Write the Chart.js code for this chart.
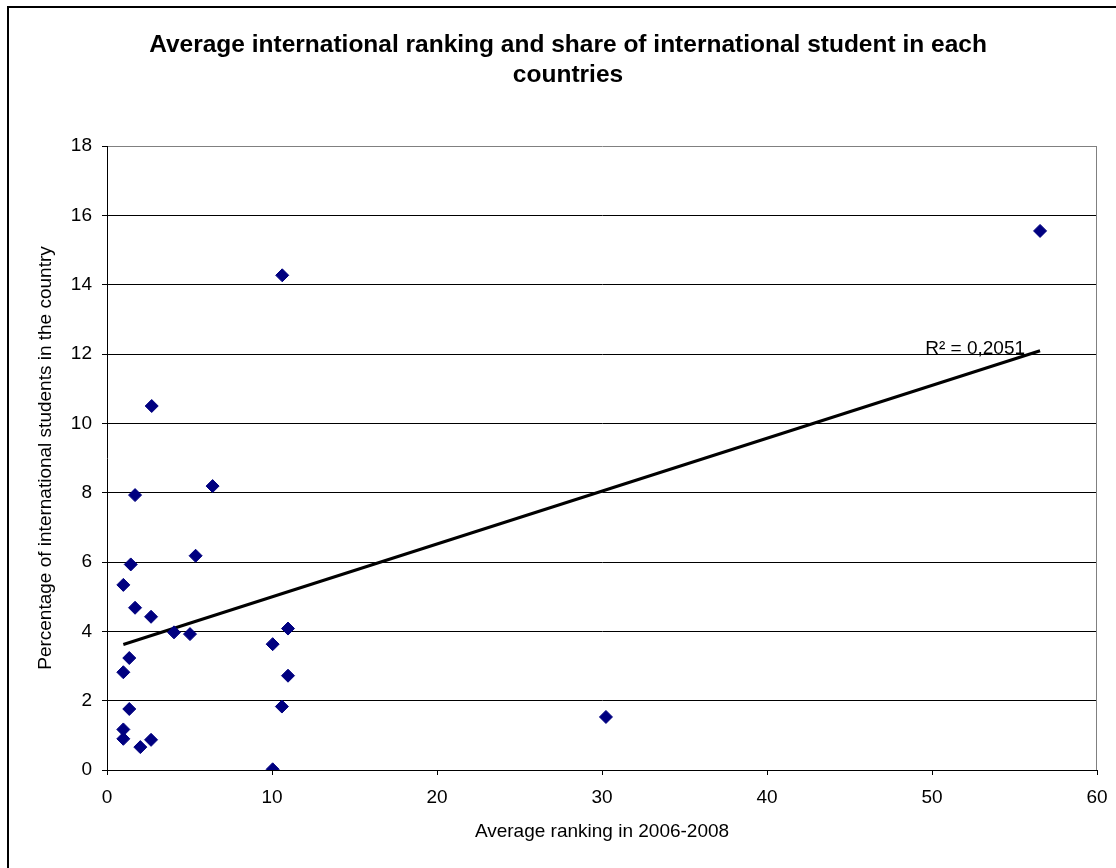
<!DOCTYPE html>
<html>
<head>
<meta charset="utf-8">
<script src="https://cdn.jsdelivr.net/npm/chart.js@4.4.1/dist/chart.umd.min.js"></script>
<style>
  html, body { margin: 0; padding: 0; background: #fff; }
  canvas { display: block; }
</style>
</head>
<body>
<canvas id="c" width="1116" height="868"></canvas>
<script>
// ---- Data ----
const rankings = [56.55, 10.62, 2.71, 1.70, 6.40, 1.44, 5.37, 0.99, 1.70, 2.67, 4.06, 5.03, 10.04, 10.97, 1.35, 0.99, 10.97, 1.35, 10.60, 0.99, 0.99, 2.02, 2.67, 10.04, 30.24];
const shares   = [15.55, 14.27, 10.50, 7.93, 8.19, 5.93, 6.18, 5.34, 4.68, 4.42, 3.97, 3.92, 3.63, 4.08, 3.23, 2.82, 2.72, 1.76, 1.83, 1.17, 0.90, 0.66, 0.87, 0.02, 1.53];
const xTickValues = [0, 10, 20, 30, 40, 50, 60];
const yTickValues = [0, 2, 4, 6, 8, 10, 12, 14, 16, 18];
const titleLines = ['Average international ranking and share of international student in each', 'countries'];
const xAxisTitle = 'Average ranking in 2006-2008';
const yAxisTitle = 'Percentage of international students in the country';
const r2Label = 'R\u00B2 = 0,2051';

// ---- Linear trend (least squares) from the data ----
const n = rankings.length;
const mx = rankings.reduce((a, b) => a + b, 0) / n;
const my = shares.reduce((a, b) => a + b, 0) / n;
let sxy = 0, sxx = 0;
for (let i = 0; i < n; i++) { sxy += (rankings[i] - mx) * (shares[i] - my); sxx += (rankings[i] - mx) ** 2; }
const slope = sxy / sxx;
const intercept = my - slope * mx;
const xMin = Math.min(...rankings), xMax = Math.max(...rankings);
const trend = [{x: xMin, y: intercept + slope * xMin}, {x: xMax, y: intercept + slope * xMax}];

const points = rankings.map((x, i) => ({x, y: shares[i]}));

const FONT = 'Liberation Sans, Arial, sans-serif';

const decor = {
  id: 'decor',
  beforeDraw(chart) {
    const ctx = chart.ctx;
    ctx.save();
    ctx.fillStyle = '#fff';
    ctx.fillRect(0, 0, chart.width, chart.height);
    ctx.restore();
  },
  afterDraw(chart) {
    const ctx = chart.ctx;
    const a = chart.chartArea;
    ctx.save();
    // outer frame (left and top visible)
    ctx.fillStyle = '#000';
    ctx.fillRect(7, 6, 2, chart.height - 6);
    ctx.fillRect(7, 6, chart.width - 7, 2);
    // right border of plot area
    ctx.strokeStyle = '#808080';
    ctx.lineWidth = 1;
    ctx.beginPath();
    ctx.moveTo(Math.round(a.right) - 0.5, a.top);
    ctx.lineTo(Math.round(a.right) - 0.5, a.bottom);
    ctx.stroke();
    // title
    ctx.fillStyle = '#000';
    ctx.font = 'bold 24.5px ' + FONT;
    ctx.textAlign = 'center';
    ctx.textBaseline = 'middle';
    ctx.fillText(titleLines[0], 568, 45);
    ctx.fillText(titleLines[1], 568, 75);
    // R² label near end of trend line
    const xs = chart.scales.x, ys = chart.scales.y;
    ctx.font = '19px ' + FONT;
    ctx.textAlign = 'right';
    ctx.fillText(r2Label, xs.getPixelForValue(trend[1].x) - 15, ys.getPixelForValue(trend[1].y) - 2);
    ctx.restore();
  }
};

new Chart(document.getElementById('c'), {
  type: 'scatter',
  data: {
    datasets: [
      {
        label: 'Countries',
        data: points,
        pointStyle: 'rectRot',
        pointRadius: 6.5,
        pointHoverRadius: 6.5,
        backgroundColor: '#000080',
        borderColor: '#000080',
        borderWidth: 1,
        order: 1
      },
      {
        type: 'line',
        label: 'Trend',
        data: trend,
        borderColor: '#000',
        borderWidth: 3,
        pointRadius: 0,
        fill: false,
        order: 2
      }
    ]
  },
  options: {
    responsive: false,
    animation: false,
    devicePixelRatio: 1,
    layout: { padding: { top: 146, right: 19, bottom: 0, left: 0 } },
    plugins: {
      legend: { display: false },
      title: { display: false },
      tooltip: { enabled: false }
    },
    scales: {
      x: {
        type: 'linear',
        min: xTickValues[0],
        max: xTickValues[xTickValues.length - 1],
        afterBuildTicks: s => { s.ticks = xTickValues.map(v => ({value: v})); },
        afterFit: s => { s.height = 98; s.paddingLeft = 0; s.paddingRight = 0; },
        grid: { drawOnChartArea: false, drawTicks: true, tickLength: 5, color: '#000' },
        border: { display: true, color: '#000', width: 1 },
        ticks: { color: '#000', font: { family: FONT, size: 19 }, padding: 11, maxRotation: 0 },
        title: { display: true, text: xAxisTitle, color: '#000', font: { family: FONT, size: 19 }, padding: { top: 0, bottom: 25 } }
      },
      y: {
        type: 'linear',
        min: yTickValues[0],
        max: yTickValues[yTickValues.length - 1],
        afterBuildTicks: s => { s.ticks = yTickValues.map(v => ({value: v})); },
        afterFit: s => { s.width = 107; },
        grid: {
          drawTicks: true,
          tickLength: 5,
          color: ctx => (ctx.tick && ctx.tick.value === 18 ? '#808080' : '#000'),
          tickColor: '#000'
        },
        border: { display: true, color: '#000', width: 1 },
        ticks: { color: '#000', font: { family: FONT, size: 19 }, padding: 10 },
        title: { display: true, text: yAxisTitle, color: '#000', font: { family: FONT, size: 19 }, padding: { top: 34, bottom: 0 } }
      }
    }
  },
  plugins: [decor]
});
</script>
</body>
</html>
